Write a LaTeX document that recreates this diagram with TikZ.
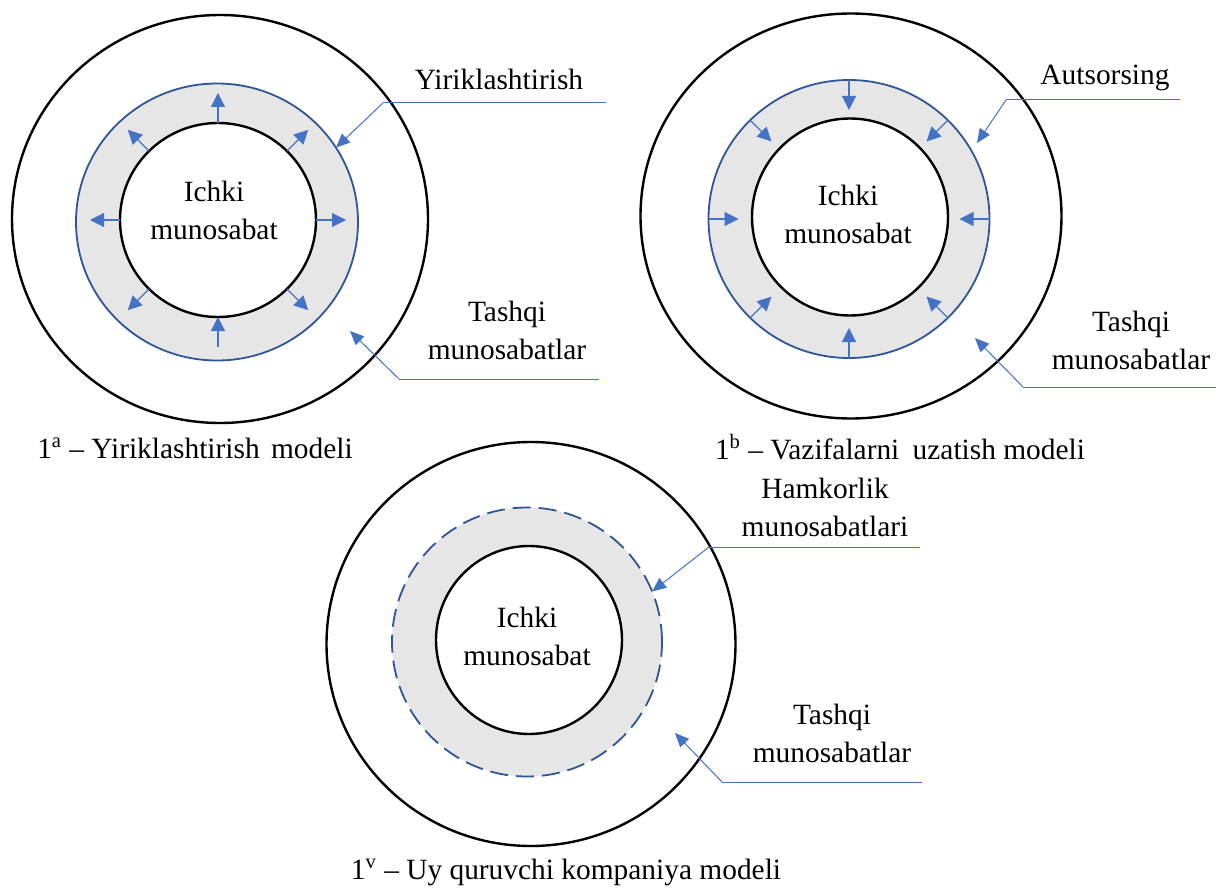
\documentclass[tikz,border=0pt]{standalone}
\usepackage{fontspec}
\setmainfont{Liberation Serif}
\usetikzlibrary{shapes.geometric,arrows.meta}
\definecolor{ringblue}{HTML}{2F5597}
\definecolor{arrowblue}{HTML}{4472C4}
\definecolor{ringgray}{HTML}{E6E6E6}

\begin{document}
\begin{tikzpicture}[x=0.5pt, y=-0.5pt,
    ring/.style={ellipse, inner sep=0pt, outer sep=0pt},
    outerring/.style={ring, draw=black, line width=1.2pt},
    midring/.style={ring, draw=ringblue, line width=0.9pt, fill=ringgray},
    innerring/.style={ring, draw=black, line width=1.2pt, fill=white},
    ringarrow/.style={arrowblue, line width=0.6pt, -{Triangle[length=7pt, width=7pt]}},
    leader/.style={arrowblue, line width=0.5pt},
    leaderarrow/.style={leader, -{Triangle[length=7pt, width=6pt]}},
    lbl/.style={align=center, font=\fontsize{14.7}{19}\selectfont, inner sep=0pt}
]
        \useasboundingbox (0,0) rectangle (1216,888);

        % --- 1a: Yiriklashtirish modeli ---
        \node[outerring, minimum width=208pt, minimum height=204pt] (outA) at (220,219) {};
        \node[midring, minimum width=141pt, minimum height=138.5pt] (midA) at (217,222) {};
        \node[innerring, minimum width=98pt, minimum height=97pt] (inA) at (218,220) {};
        \node[lbl] (ichA) at (214,210) {Ichki\\munosabat};

        % strelkalar tashqariga
        \foreach \a in {90, 45, 0, -45, -135, 180, 135} {
            \draw[ringarrow] (inA.\a) -- ++(\a:15pt);
        }
        \draw[ringarrow] ([yshift=-15pt]inA.south) -- (inA.south);

        \node[lbl] (yirik) at (499,79) {Yiriklashtirish};
        \coordinate (kA1) at (383,103);
        \coordinate (eA1) at (606,103);
        \draw[leader] (eA1) -- (kA1);
        \draw[leaderarrow] (kA1) -- (midA.32);

        \node[lbl] (tashA) at (507,330) {Tashqi\\munosabatlar};
        \coordinate (kA2) at (399,379);
        \coordinate (eA2) at (599,379);
        \coordinate (tA) at (350,331);
        \draw[leader] (eA2) -- (kA2);
        \draw[leaderarrow] (kA2) -- (tA);

        \node[lbl] (capA) at (195,448) {1\textsuperscript{a} – Yiriklashtirish\hspace{2pt} modeli};

        % --- 1b: Vazifalarni uzatish modeli ---
        \node[outerring, minimum width=210.5pt, minimum height=202.5pt] (outB) at (851,216) {};
        \node[midring, minimum width=140.5pt, minimum height=139pt] (midB) at (849,219) {};
        \node[innerring, minimum width=98pt, minimum height=98.5pt] (inB) at (850,217) {};
        \node[lbl] (ichB) at (848,214) {Ichki\\munosabat};

        % strelkalar ichkariga
        \foreach \a in {90, 45, 0, -45, -90, -135, 180, 135} {
            \draw[ringarrow] (midB.\a) -- ++(\a:-15pt);
        }

        \node[lbl] (auts) at (1105,78) {Autsorsing};
        \coordinate (kB1) at (1006,100);
        \coordinate (eB1) at (1180,100);
        \coordinate (tB1) at (977,143);
        \draw[leader] (eB1) -- (kB1);
        \draw[leaderarrow] (kB1) -- (tB1);

        \node[lbl] (tashB) at (1131,340) {Tashqi\\munosabatlar};
        \coordinate (kB2) at (1023,387);
        \coordinate (eB2) at (1216,387);
        \coordinate (tB2) at (975,338);
        \draw[leader] (eB2) -- (kB2);
        \draw[leaderarrow] (kB2) -- (tB2);

        \node[lbl] (capB) at (900,447) {1\textsuperscript{b} – Vazifalarni\hspace{3pt} uzatish modeli};

        % --- 1v: Uy quruvchi kompaniya modeli ---
        \node[outerring, minimum width=204.5pt, minimum height=202pt] (outC) at (531,644) {};
        \node[midring, dash pattern=on 9pt off 4pt, minimum width=135pt, minimum height=134.5pt] (midC) at (527,642) {};
        \node[innerring, minimum width=93pt, minimum height=94pt] (inC) at (529,640) {};
        \node[lbl] (ichC) at (527,636) {Ichki\\munosabat};

        \node[lbl] (hamk) at (825,507) {Hamkorlik\\munosabatlari};
        \coordinate (kC1) at (709,547);
        \coordinate (eC1) at (920,547);
        \draw[leader] (eC1) -- (kC1);
        \draw[leaderarrow] (kC1) -- (midC.22);

        \node[lbl] (tashC) at (832,733) {Tashqi\\munosabatlar};
        \coordinate (kC2) at (722,782);
        \coordinate (eC2) at (922,782);
        \coordinate (tC) at (675,733);
        \draw[leader] (eC2) -- (kC2);
        \draw[leaderarrow] (kC2) -- (tC);

        \node[lbl] (capC) at (566,872) {1\textsuperscript{v} – Uy quruvchi kompaniya modeli};

    \end{tikzpicture}
\end{document}
